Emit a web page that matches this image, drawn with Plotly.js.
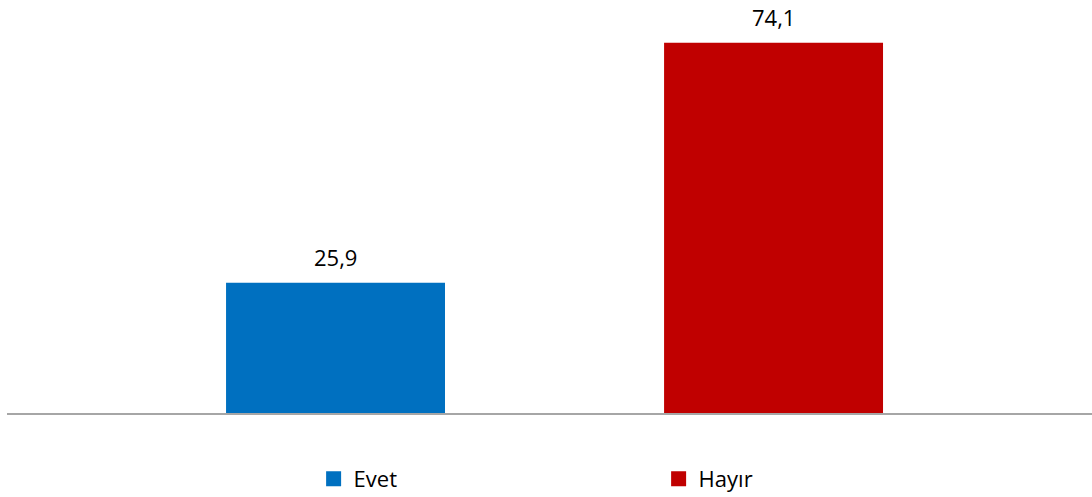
<!DOCTYPE html>
<html>
<head>
<meta charset="utf-8">
<script src="https://cdn.plot.ly/plotly-3.0.1.min.js"></script>
<style>html,body{margin:0;padding:0;background:#fff;}#chart{width:1092px;height:497px;}</style>
</head>
<body>
<div id="chart"></div>
<script>
const categories = ['Evet', 'Hayır'];
const values = [25.9, 74.1];
const colors = ['#0070C0', '#C00000'];

const FONT = '"Open Sans", "Liberation Sans", sans-serif';

const traces = categories.map((c, i) => ({
  type: 'bar',
  name: c,
  x: [c],
  y: [values[i]],
  marker: { color: colors[i], line: { color: colors[i], width: 3 } },
  width: 0.493,
  hoverinfo: 'skip'
}));

const annotations = categories.map((c, i) => ({
  x: c, y: values[i], xref: 'x', yref: 'y',
  text: values[i].toFixed(1).replace('.', ','),
  showarrow: false, yanchor: 'bottom', yshift: 10,
  font: { family: FONT, size: 22, color: '#000000' }
}));

const layout = {
  width: 1092, height: 497,
  margin: { l: 7, r: 0, t: 15, b: 84, autoexpand: false },
  paper_bgcolor: '#ffffff', plot_bgcolor: '#ffffff',
  barmode: 'overlay',
  separators: ',.',
  font: { family: FONT, size: 22, color: '#000000' },
  xaxis: {
    type: 'category',
    range: [-0.75, 1.727],
    showticklabels: false, ticks: '',
    showgrid: false, zeroline: false,
    showline: true, linecolor: '#A6A6A6', linewidth: 2,
    fixedrange: true
  },
  yaxis: {
    range: [0, 80], visible: false, showgrid: false, zeroline: false, fixedrange: true
  },
  showlegend: true,
  legend: {
    orientation: 'h', x: 0.2826, xanchor: 'left', y: -0.166, yanchor: 'middle',
    entrywidth: 300, entrywidthmode: 'pixels',
    font: { family: FONT, size: 22, color: '#000000' },
    itemclick: false, itemdoubleclick: false
  },
  annotations: annotations
};

Plotly.newPlot('chart', traces, layout, { displayModeBar: false, staticPlot: true });
</script>
</body>
</html>
